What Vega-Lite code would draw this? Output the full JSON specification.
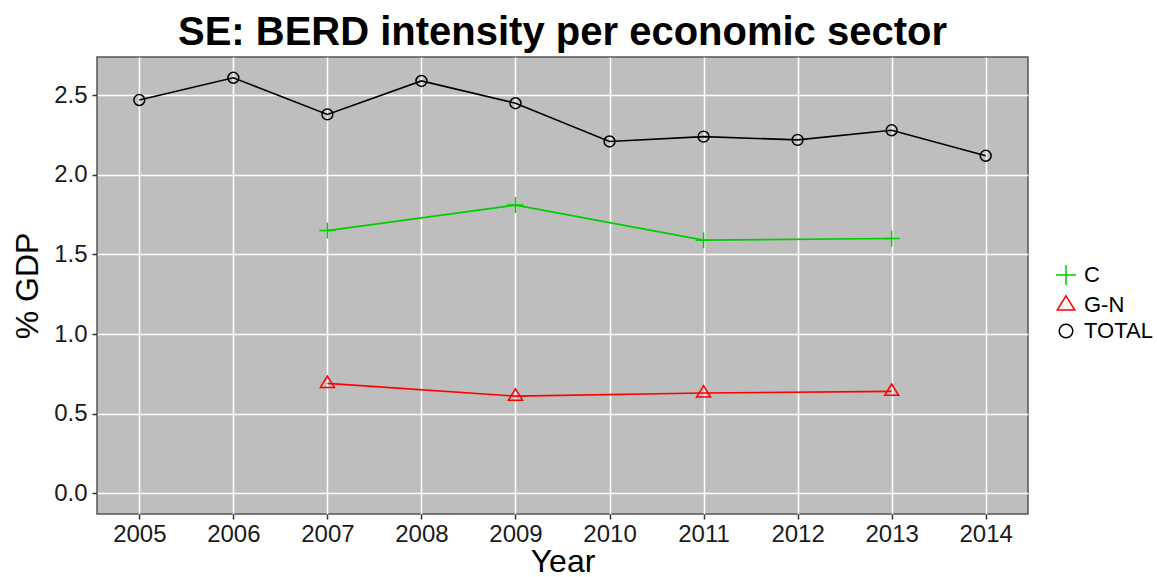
{
  "$schema": "https://vega.github.io/schema/vega-lite/v6.json",
  "width": 931,
  "height": 457,
  "autosize": "none",
  "padding": {"left": 97, "top": 57, "right": 129, "bottom": 63},
  "background": "white",
  "title": {
    "text": "SE: BERD intensity per economic sector",
    "fontSize": 40,
    "fontWeight": "bold",
    "font": "Liberation Sans",
    "color": "#000000",
    "anchor": "middle",
    "frame": "group",
    "offset": 4
  },
  "config": {
    "font": "Liberation Sans",
    "view": {"fill": "#BEBEBE", "stroke": "#555555", "strokeWidth": 1.5},
    "axis": {
      "domain": false,
      "grid": true,
      "gridColor": "#FFFFFF",
      "gridWidth": 1.6,
      "gridOpacity": 1,
      "tickColor": "#333333",
      "tickWidth": 1.5,
      "tickSize": 5,
      "labelFontSize": 24,
      "labelColor": "#1a1a1a",
      "titleFontSize": 32,
      "titleFontWeight": "normal",
      "titleColor": "#000000"
    },
    "legend": {
      "labelFontSize": 22,
      "labelColor": "#000000",
      "symbolStrokeWidth": 1.5,
      "symbolSize": 400,
      "padding": 0
    }
  },
  "data": {
    "values": [
      {"year": 2005, "sector": "TOTAL", "value": 2.47},
      {"year": 2006, "sector": "TOTAL", "value": 2.61},
      {"year": 2007, "sector": "TOTAL", "value": 2.38},
      {"year": 2008, "sector": "TOTAL", "value": 2.59},
      {"year": 2009, "sector": "TOTAL", "value": 2.45},
      {"year": 2010, "sector": "TOTAL", "value": 2.21},
      {"year": 2011, "sector": "TOTAL", "value": 2.24},
      {"year": 2012, "sector": "TOTAL", "value": 2.22},
      {"year": 2013, "sector": "TOTAL", "value": 2.28},
      {"year": 2014, "sector": "TOTAL", "value": 2.12},
      {"year": 2007, "sector": "C", "value": 1.65},
      {"year": 2009, "sector": "C", "value": 1.81},
      {"year": 2011, "sector": "C", "value": 1.59},
      {"year": 2013, "sector": "C", "value": 1.60},
      {"year": 2007, "sector": "G-N", "value": 0.69},
      {"year": 2009, "sector": "G-N", "value": 0.61},
      {"year": 2011, "sector": "G-N", "value": 0.63},
      {"year": 2013, "sector": "G-N", "value": 0.64}
    ]
  },
  "encoding": {
    "x": {
      "field": "year",
      "type": "quantitative",
      "scale": {"domain": [2004.55, 2014.45], "nice": false, "zero": false},
      "axis": {
        "values": [2005, 2006, 2007, 2008, 2009, 2010, 2011, 2012, 2013, 2014],
        "format": "d",
        "title": "Year",
        "labelPadding": 3,
        "titlePadding": 0,
        "labelFlush": false,
        "labelOverlap": false
      }
    },
    "y": {
      "field": "value",
      "type": "quantitative",
      "scale": {"domain": [-0.1305, 2.7405], "nice": false, "zero": false},
      "axis": {
        "values": [0, 0.5, 1, 1.5, 2, 2.5],
        "format": ".1f",
        "title": "% GDP",
        "labelPadding": 5,
        "titlePadding": 9
      }
    },
    "color": {
      "field": "sector",
      "type": "nominal",
      "scale": {"domain": ["C", "G-N", "TOTAL"], "range": ["#00CD00", "#FF0000", "#000000"]},
      "legend": {
        "title": null,
        "orient": "none",
        "legendX": 958,
        "legendY": 207,
        "labelOffset": 7,
        "rowPadding": 4
      }
    }
  },
  "layer": [
    {
      "mark": {"type": "line", "strokeWidth": 1.6}
    },
    {
      "mark": {"type": "point", "filled": false, "strokeWidth": 1.5, "size": 256, "opacity": 1},
      "encoding": {
        "shape": {
          "field": "sector",
          "type": "nominal",
          "scale": {
            "domain": ["C", "G-N", "TOTAL"],
            "range": [
              "M-1,0H1M0,-1V1",
              "M0,-0.92L0.875,0.5H-0.875Z",
              "M-0.68,0A0.68,0.68 0 1,1 0.68,0A0.68,0.68 0 1,1 -0.68,0"
            ]
          },
          "legend": {
            "title": null,
            "orient": "none",
            "legendX": 958,
            "legendY": 207,
            "labelOffset": 7,
            "rowPadding": 4
          }
        }
      }
    }
  ]
}
